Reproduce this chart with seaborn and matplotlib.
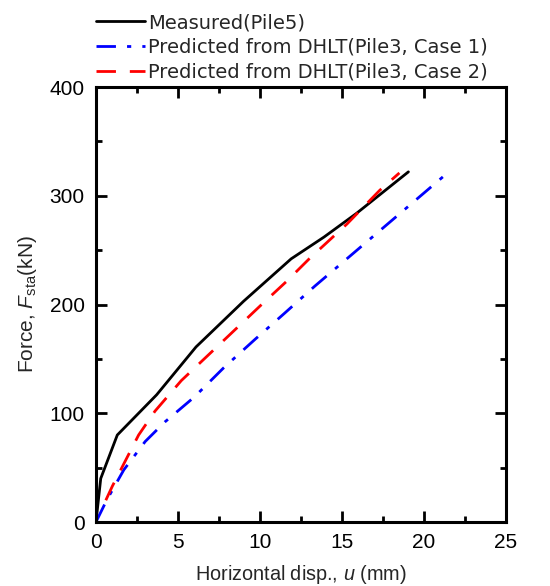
import numpy as np
import pandas as pd
import matplotlib
matplotlib.use("Agg")
import matplotlib.pyplot as plt
import seaborn as sns
from matplotlib.ticker import MultipleLocator

# Data
measured_u = [0.0, 0.29, 1.3, 3.7, 6.1, 9.0, 11.9, 13.9, 15.9, 19.05]
measured_f = [0.0, 40, 80, 117, 161, 203, 242, 262, 284, 322]

case1_u = [0.0, 0.65, 1.7, 3.0, 4.2, 6.0, 7.8, 9.7, 11.5, 13.35, 21.2]
case1_f = [0.0, 20, 48, 74, 92, 115, 142, 168, 192, 217, 318]

case2_u = [0.6, 1.0, 2.6, 3.6, 5.2, 6.6, 8.7, 10.1, 11.6, 13.0, 15.3, 17.3, 18.5]
case2_f = [20, 33, 80, 102, 130, 150, 180, 200, 221, 242, 274, 305, 321]

labels = ["Measured(Pile5)",
          "Predicted from DHLT(Pile3, Case 1)",
          "Predicted from DHLT(Pile3, Case 2)"]

sns.set_theme(style="white")
plt.rcParams['font.family'] = ['Liberation Sans', 'DejaVu Sans']
plt.rcParams['mathtext.fontset'] = 'custom'
plt.rcParams['mathtext.rm'] = 'Liberation Sans'
plt.rcParams['mathtext.it'] = 'Liberation Sans:italic'

fs = 15

fig = plt.figure(figsize=(5.5, 5.86), dpi=100)
ax = fig.add_axes([0.1745, 0.1092, 0.7455, 0.7423])

lw = 2.0
sns.lineplot(x=measured_u, y=measured_f, ax=ax, color='black', lw=lw,
             sort=False, estimator=None, label=labels[0])
sns.lineplot(x=case1_u, y=case1_f, ax=ax, color='#0000ff', lw=lw,
             sort=False, estimator=None, label=labels[1])
sns.lineplot(x=case2_u, y=case2_f, ax=ax, color='#ff0000', lw=lw,
             sort=False, estimator=None, label=labels[2])
lines = ax.get_lines()
lines[1].set_dashes([7, 4, 1.5, 4])
lines[2].set_dashes([7, 5])

ax.set_xlim(0, 25)
ax.set_ylim(0, 400)
ax.xaxis.set_major_locator(MultipleLocator(5))
ax.xaxis.set_minor_locator(MultipleLocator(2.5))
ax.yaxis.set_major_locator(MultipleLocator(100))
ax.yaxis.set_minor_locator(MultipleLocator(50))
ax.tick_params(which='both', direction='in', top=True, right=True,
               bottom=True, left=True,
               labelsize=fs, colors='black', width=2)
ax.tick_params(which='major', length=8, pad=8)
ax.tick_params(which='minor', length=4)
for s in ax.spines.values():
    s.set_linewidth(2.2)
    s.set_color('black')

ax.set_xlabel(r"Horizontal disp., $u$ (mm)", fontsize=14.3, labelpad=8)
ax.set_ylabel(r"Force, $F_{\mathrm{sta}}$(kN)", fontsize=fs, labelpad=8)

leg = ax.legend(loc='lower left', bbox_to_anchor=(0.0, 1.012), frameon=False,
                prop={'family': ['DejaVu Sans'], 'size': 14},
                handlelength=2.5, handletextpad=0.2,
                labelspacing=0.3, borderaxespad=0, borderpad=0)

fig.savefig("out.png", dpi=100)
